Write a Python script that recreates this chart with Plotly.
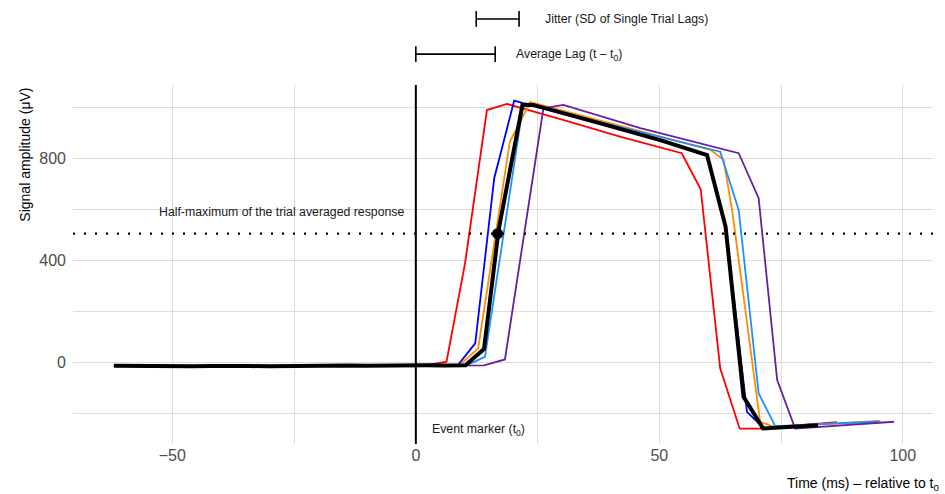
import plotly.graph_objects as go

# ---------------- data ----------------
t_base = [-62, -58, -54, -50, -46, -42, -38, -34, -30, -26, -22, -18, -14, -10, -6, -2, 2, 6]

t_red = t_base[:-1] + [6.3, 10.1, 14.6, 18.7, 30.4, 42.1, 54.6, 58.5, 62.5, 66.5, 71.3, 78.0, 86.5]
y_red = [-11, -13, -14, -13, -12, -12, -11, -12, -13, -12, -10, -10, -11, -12, -10, -9, -10,
         4, 389, 989, 1013, 950, 884, 820, 679, -22, -258, -258, -245, -232]

t_blue = t_base + [8.6, 12.2, 16.1, 20.2, 24.0, 40.0, 59.8, 63.6, 68.0, 71.5, 82.0]
y_blue = [-12, -14, -15, -14, -13, -12, -12, -13, -13, -12, -11, -11, -11, -11, -11, -10, -10, -10,
          -10, 76, 722, 1026, 1005, 925, 815, 535, -192, -258, -246]

t_orange = t_base + [8.9, 12.8, 19.3, 23.5, 42.0, 60.5, 63.2, 65.0, 70.7, 73.5, 95.4]
y_orange = [-12, -13, -14, -14, -13, -12, -12, -13, -14, -12, -11, -11, -12, -12, -11, -10, -10, -10,
            -10, 56, 865, 1020, 925, 833, 794, 590, -231, -251, -228]

t_lblue = t_base + [10.4, 14.2, 22.1, 42.0, 62.5, 66.3, 70.4, 73.8, 95.0]
y_lblue = [-12, -13, -15, -14, -13, -12, -12, -13, -13, -13, -11, -10, -11, -12, -11, -9, -10, -10,
           -10, 23, 1016, 922, 826, 598, -120, -248, -230]

t_purple = t_base + [10.0, 14.0, 18.3, 26.2, 30.3, 46.1, 66.3, 70.4, 74.2, 77.9, 98.2]
y_purple = [-12, -14, -15, -15, -13, -13, -12, -12, -14, -13, -11, -11, -11, -12, -11, -10, -10, -10,
            -11, -10, 13, 996, 1009, 918, 820, 644, -68, -258, -231]

t_mean = t_base + [10.2, 14.0, 17.0, 21.9, 24.1, 37.9, 50.2, 59.8, 63.6, 67.3, 71.3, 82.6]
y_mean = [-12, -13, -15, -15, -14, -13, -12, -13, -14, -13, -11, -10, -11, -12, -11, -9, -10, -11,
          -10, 54, 520, 1010, 1009, 937, 871, 813, 533, -133, -257, -245]

half_max = 505
half_max_time = 16.8
avg_lag = 16.3
jitter_lo, jitter_hi = 12.4, 21.2

trial_colors = ["#FF0000", "#0000FF", "#FF8C00", "#1E90FF", "#65209F"]

FONT = "Liberation Sans, Arial, sans-serif"

# ---------------- figure ----------------
fig = go.Figure()

trials = [(t_red, y_red), (t_blue, y_blue), (t_orange, y_orange), (t_lblue, y_lblue), (t_purple, y_purple)]
for (tx, ty), col in zip(trials, trial_colors):
    fig.add_trace(go.Scatter(x=tx, y=ty, mode="lines", line=dict(color=col, width=1.8),
                             showlegend=False, hoverinfo="skip"))

fig.add_trace(go.Scatter(x=t_mean, y=y_mean, mode="lines", line=dict(color="black", width=4),
                         showlegend=False))
fig.add_trace(go.Scatter(x=[half_max_time], y=[half_max], mode="markers",
                         marker=dict(color="black", size=11), showlegend=False))

# event marker line
fig.add_shape(type="line", xref="x", yref="paper", x0=0, x1=0, y0=0, y1=1,
              line=dict(color="black", width=2), layer="above")
# half-maximum dotted line
fig.add_shape(type="line", xref="paper", yref="y", x0=0, x1=1, y0=half_max, y1=half_max,
              line=dict(color="black", width=2.2, dash="2px,9px"))

# bars above plot
def hbar(x0, x1, yp):
    fig.add_shape(type="line", xref="x", yref="paper", x0=x0, x1=x1, y0=yp, y1=yp,
                  line=dict(color="black", width=1.6))
    for xx in (x0, x1):
        fig.add_shape(type="line", xref="x", yref="paper", x0=xx, x1=xx, y0=yp - 0.022, y1=yp + 0.022,
                      line=dict(color="black", width=1.6))

hbar(jitter_lo, jitter_hi, 1.184)
hbar(0, avg_lag, 1.086)

ann_font = dict(family=FONT, size=12.3, color="#1a1a1a")
fig.add_annotation(x=26.1, y=1.184, xref="x", yref="paper", text="Jitter (SD of Single Trial Lags)",
                   showarrow=False, xanchor="left", yanchor="middle", font=ann_font)
fig.add_annotation(x=20.2, y=1.084, xref="x", yref="paper", text="Average Lag (t – t<sub>0</sub>)",
                   showarrow=False, xanchor="left", yanchor="middle", font=ann_font)
fig.add_annotation(x=-27.5, y=591, xref="x", yref="y", text="Half-maximum of the trial averaged response",
                   showarrow=False, xanchor="center", yanchor="middle", font=ann_font)
fig.add_annotation(x=2.9, y=-263, xref="x", yref="y", text="Event marker (t<sub>0</sub>)",
                   showarrow=False, xanchor="left", yanchor="middle", font=ann_font)

# axis titles
fig.add_annotation(x=-0.0562, y=0.805, xref="paper", yref="paper", text="Signal amplitude (μV)",
                   textangle=-90, showarrow=False, xanchor="center", yanchor="middle",
                   font=dict(family=FONT, size=14, color="black"))
fig.add_annotation(x=1.0108, y=-0.111, xref="paper", yref="paper", text="Time (ms) – relative to t<sub>0</sub>",
                   showarrow=False, xanchor="right", yanchor="middle",
                   font=dict(family=FONT, size=14, color="black"))

grid = "#dcdcdc"
fig.update_layout(
    width=945, height=494,
    margin=dict(l=73, r=12, t=85, b=50),
    plot_bgcolor="white", paper_bgcolor="white",
    font=dict(family=FONT),
    xaxis=dict(range=[-70.4, 106.2], tick0=0, dtick=50, showgrid=True, gridcolor=grid, gridwidth=1,
               minor=dict(dtick=25, showgrid=True, gridcolor=grid, gridwidth=1),
               zeroline=False, showline=False, ticks="",
               tickfont=dict(family=FONT, size=16, color="#4d4d4d")),
    yaxis=dict(range=[-318, 1087], tick0=0, dtick=400, showgrid=True, gridcolor=grid, gridwidth=1,
               minor=dict(dtick=200, showgrid=True, gridcolor=grid, gridwidth=1),
               zeroline=False, showline=False, ticks="", ticklabelstandoff=6,
               tickfont=dict(family=FONT, size=16, color="#4d4d4d")),
)

fig.write_html("out.html")
